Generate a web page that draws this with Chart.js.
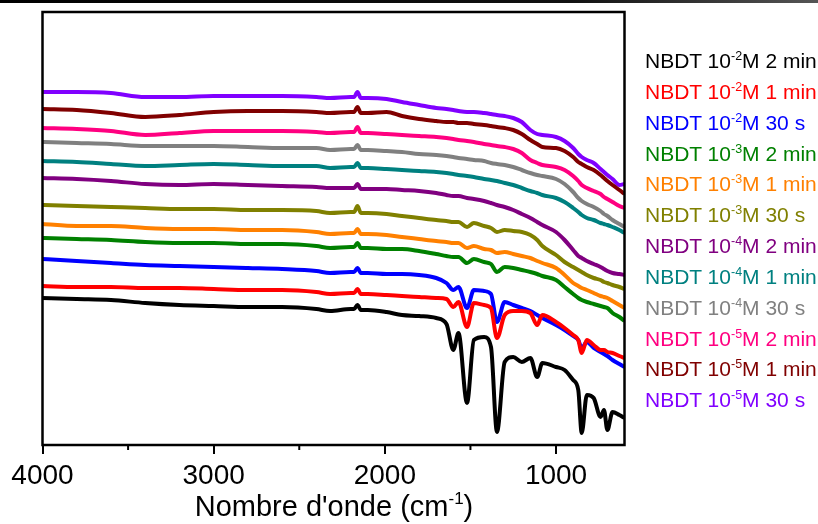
<!DOCTYPE html>
<html><head><meta charset="utf-8">
<script src="https://cdn.jsdelivr.net/npm/chart.js@4/dist/chart.umd.min.js"></script>
<style>
html,body{margin:0;padding:0;background:#fff;}
#wrap{position:relative;width:818px;height:524px;overflow:hidden;font-family:"Liberation Sans",Arial,sans-serif;}
#topbar{position:absolute;left:0;top:0;width:818px;height:3px;background:linear-gradient(to right,#000 0%,#111 70%,#555 100%);}
#c{position:absolute;left:0;top:0;}
#legend{position:absolute;left:645px;top:46px;font-size:21px;line-height:30.85px;white-space:nowrap;}
#legend div{height:30.85px;}
#legend .sup{font-size:12.5px;position:relative;top:-8px;line-height:0;}
#xtitle{position:absolute;left:0;width:668px;top:492px;text-align:center;font-size:29px;line-height:29px;white-space:nowrap;}
#xtitle .s{font-size:17px;position:relative;top:-12px;line-height:0;}
</style></head><body>
<div id="wrap">
<canvas id="c" width="818" height="524"></canvas>
<div id="topbar"></div>
<div id="legend"></div>
<div id="xtitle">Nombre d'onde (cm<span class="s">-1</span>)</div>
</div>
<script>
// Wavenumbers (cm-1)
const wavenumbers = [4000,3800,3600,3400,3200,3000,2800,2600,2400,2320,2200,2180,2160,2140,2100,1990,1900,1800,1700,1640,1600,1570,1520,1480,1420,1380,1345,1300,1250,1200,1150,1110,1080,1000,950,900,870,850,820,780,740,720,700,670,630,600];

// Offset transmittance (a.u.) per series
const t_e2_2min = [147,146,145,142,140,139,138,138,136,134,136,136,140,135,135,133,130,129,127,121,95,112,42,105,108,98,13,83,88,83,87,68,82,78,75,65,55,12,50,47,28,35,15,33,30,27];
const t_e2_1min = [159,158,158,157,157,156,155,155,153,151,152,152,156,151,151,150,149,148,147,146,138,143,118,142,140,137,107,130,134,134,132,120,130,123,117,110,105,92,105,100,95,95,93,92,89,87];
const t_e2_30s  = [186,184,182,180,179,178,177,176,174,172,173,173,177,172,172,171,171,170,167,162,155,158,137,155,154,151,123,143,140,137,134,130,127,120,115,109,105,97,103,97,93,91,89,85,81,78];
const t_e3_2min = [207,206,205,203,202,202,201,201,199,197,198,198,202,197,197,196,196,194,191,189,188,188,182,186,183,181,173,178,177,175,173,171,169,165,158,151,147,145,143,141,139,138,137,132,128,124];
const t_e3_1min = [221,219,219,217,216,216,215,215,213,211,212,212,216,211,211,210,208,206,204,203,202,202,197,199,196,195,192,193,191,189,187,184,182,177,170,162,159,157,155,152,149,148,147,144,140,137];
const t_e3_30s  = [240,239,238,237,236,236,235,235,234,232,233,233,239,232,232,231,229,227,225,224,223,223,218,222,219,217,213,215,214,213,210,205,199,190,183,178,175,173,170,167,165,163,162,160,158,156];
const t_e4_2min = [267,266,264,261,260,261,260,259,258,257,257,257,261,256,256,256,255,254,252,250,249,249,247,246,244,242,240,238,235,231,227,223,220,213,205,195,189,187,184,181,178,176,174,172,171,170];
const t_e4_1min = [284,283,281,279,280,281,280,279,279,277,278,278,282,277,277,276,275,274,273,272,271,270,269,268,266,265,264,262,260,257,254,252,250,247,243,237,233,230,227,225,222,221,220,218,215,212];
const t_e4_30s  = [303,302,301,299,299,299,298,297,297,295,296,296,300,295,295,294,293,291,290,289,288,287,286,285,284,282,281,280,278,275,272,270,269,266,261,253,247,244,241,238,234,231,229,225,221,218];
const t_e5_2min = [317,316,314,310,312,314,314,314,313,312,313,313,318,312,312,311,310,309,308,307,306,305,304,303,301,300,299,298,296,292,285,282,280,278,275,269,264,260,257,254,251,248,246,243,239,237];
const t_e5_1min = [336,335,332,328,330,333,334,334,333,332,333,333,338,332,332,333,329,326,324,323,323,322,322,321,320,319,318,317,315,311,305,301,298,297,294,288,283,281,278,275,270,267,264,260,255,251];
const t_e5_30s  = [353,353,352,348,348,349,349,349,348,347,348,348,353,347,347,346,343,340,337,336,335,334,333,333,332,331,330,329,327,323,315,311,310,308,304,297,291,288,285,282,276,273,270,266,260,261];

const seriesValues = [t_e2_2min,t_e2_1min,t_e2_30s,t_e3_2min,t_e3_1min,t_e3_30s,t_e4_2min,t_e4_1min,t_e4_30s,t_e5_2min,t_e5_1min,t_e5_30s];
const exponents = ['-2','-2','-2','-3','-3','-3','-4','-4','-4','-5','-5','-5'];
const durations = ['2 min','1 min','30 s','2 min','1 min','30 s','2 min','1 min','30 s','2 min','1 min','30 s'];
const colors = ['#000000','#FF0000','#0000FF','#008000','#FF8000','#808000','#800080','#008080','#808080','#FF0080','#800000','#8000FF'];

const majorTicks = [4000,3000,2000,1000];
const minorTicks = [3500,2500,1500];

const datasets = seriesValues.map((vals,i)=>({
  label: 'NBDT 10^' + exponents[i] + 'M ' + durations[i],
  data: vals.map((v,j)=>({x:wavenumbers[j], y:v})),
  borderColor: colors[i],
  backgroundColor: colors[i],
  borderWidth: 4,
  pointRadius: 0,
  fill: false,
  cubicInterpolationMode: 'monotone'
}));

// HTML legend with superscripts
const leg = document.getElementById('legend');
leg.innerHTML = seriesValues.map((v,i)=>
  '<div style="color:'+colors[i]+'">NBDT 10<span class="sup">'+exponents[i]+'</span>M '+durations[i]+'</div>'
).join('');

const framePlugin = {
  id:'frame',
  afterDraw(chart){
    const ctx = chart.ctx, a = chart.chartArea, xs = chart.scales.x;
    ctx.save();
    ctx.strokeStyle = '#000';
    ctx.lineWidth = 2.5;
    ctx.strokeRect(a.left, a.top, a.right - a.left, a.bottom - a.top);
    ctx.lineWidth = 2;
    minorTicks.forEach(v=>{
      const px = xs.getPixelForValue(v);
      ctx.beginPath(); ctx.moveTo(px, a.bottom); ctx.lineTo(px, a.bottom + 5); ctx.stroke();
    });
    ctx.restore();
  }
};

new Chart(document.getElementById('c'), {
  type:'line',
  data:{datasets},
  options:{
    responsive:false, animation:false, devicePixelRatio:1,
    layout:{padding:{left:42.5, right:193.5, top:12, bottom:0}},
    plugins:{legend:{display:false}, tooltip:{enabled:false}},
    scales:{
      x:{type:'linear', reverse:true, min:600, max:4000,
        afterBuildTicks:s=>{ s.ticks = majorTicks.map(v=>({value:v})); },
        afterFit:s=>{ s.height = 79; },
        grid:{drawOnChartArea:false, drawTicks:true, tickLength:9, lineWidth:2, color:'#000'},
        border:{display:false},
        ticks:{font:{family:'"Liberation Sans", Arial, sans-serif', size:28}, color:'#000', padding:5, maxRotation:0, autoSkip:false, callback:v=>String(v)}
      },
      y:{display:false, min:0, max:433}
    }
  },
  plugins:[framePlugin]
});
</script>
</body></html>
